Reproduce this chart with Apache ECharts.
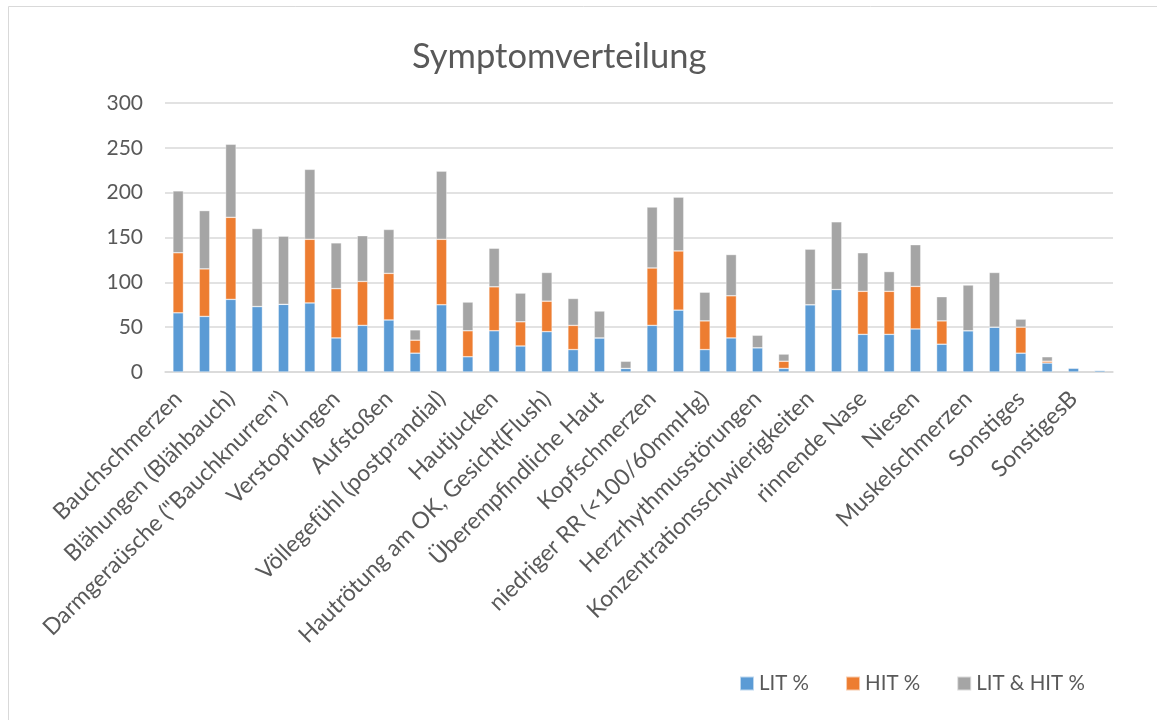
<!DOCTYPE html>
<html>
<head>
<meta charset="utf-8">
<script src="https://cdn.jsdelivr.net/npm/echarts@6/dist/echarts.min.js"></script>
<style>
  html, body { margin: 0; padding: 0; background: #ffffff; }
  #chart { width: 1157px; height: 720px; }
</style>
</head>
<body>
<div id="chart"></div>
<script>
// ---- data ----
const categories = [
  'Bauchschmerzen', '',
  'Blähungen (Blähbauch)', '',
  'Darmgeraüsche ("Bauchknurren")', '',
  'Verstopfungen', '',
  'Aufstoßen', '',
  'Völlegefühl (postprandial)', '',
  'Hautjucken', '',
  'Hautrötung am OK, Gesicht(Flush)', '',
  'Überempfindliche Haut', '',
  'Kopfschmerzen', '',
  'niedriger RR (<100/60mmHg)', '',
  'Herzrhythmusstörungen', '',
  'Konzentrationsschwierigkeiten', '',
  'rinnende Nase', '',
  'Niesen', '',
  'Muskelschmerzen', '',
  'Sonstiges', '',
  'SonstigesB', ''
];
const seriesNames = ['LIT %', 'HIT %', 'LIT & HIT %'];
const litValues  = [66, 62, 81, 73, 75.5, 77, 38, 52, 58, 21, 75, 17, 46, 29, 45, 25, 38, 4, 52, 69, 25, 38, 27, 4, 75, 92, 42, 42, 48, 31, 46, 50, 21, 10, 4.5, 2];
const hitValues  = [67, 53, 91.5, 0, 0, 71, 55, 49, 52, 14.5, 73, 29, 49, 27, 34, 27, 0, 0, 64, 66, 32, 47, 0, 8, 0, 0, 48, 48, 47.5, 26, 0, 0, 29, 2, 0, 0];
const bothValues = [69, 65, 81.5, 87, 76, 78, 51, 51, 49, 11.5, 76, 32, 43, 32, 32, 30, 30, 8, 68, 60, 32, 46, 14, 8, 62, 75.5, 43, 22, 46.5, 27, 51, 61, 9, 5, 0, 0];
const yTicks = { min: 0, max: 300, interval: 50 };
const colors = ['#5B9BD5', '#ED7D31', '#A5A5A5'];

const FONT = 'Lato';
const TXT = '#595959';

const chart = echarts.init(document.getElementById('chart'), null, { renderer: 'canvas' });

function barSeries(name, values, color) {
  return {
    name: name,
    type: 'bar',
    stack: 'total',
    barWidth: '40%',
    data: values,
    itemStyle: { color: color, borderColor: 'rgba(255,255,255,0.6)', borderWidth: 0.6 },
    emphasis: { disabled: true }
  };
}

chart.setOption({
  animation: false,
  backgroundColor: '#ffffff',
  color: colors,
  title: {
    text: 'Symptomverteilung',
    left: 407,
    top: 34,
    textStyle: { fontFamily: FONT, fontSize: 34.5, fontWeight: 'normal', color: TXT }
  },
  graphic: [{
    type: 'rect',
    shape: { x: 8.5, y: 6.5, width: 1300, height: 900 },
    style: { fill: 'none', stroke: '#d9d9d9', lineWidth: 1 },
    silent: true
  }],
  legend: {
    data: seriesNames,
    left: 734,
    top: 668,
    icon: 'rect',
    itemWidth: 14,
    itemHeight: 14,
    itemGap: 36,
    textStyle: { fontFamily: FONT, fontSize: 20.5, color: TXT }
  },
  grid: { left: 165, top: 103, width: 948, height: 269, containLabel: false },
  xAxis: {
    type: 'category',
    data: categories,
    axisLine: { lineStyle: { color: '#d9d9d9', width: 1.5 } },
    axisTick: { show: false },
    axisLabel: {
      interval: 0,
      rotate: 45,
      margin: 23,
      fontFamily: FONT,
      fontSize: 23,
      color: TXT
    }
  },
  yAxis: {
    type: 'value',
    min: yTicks.min,
    max: yTicks.max,
    interval: yTicks.interval,
    axisLine: { show: false },
    axisTick: { show: false },
    splitLine: { lineStyle: { color: '#d9d9d9', width: 1.5 } },
    axisLabel: { fontFamily: FONT, fontSize: 21, color: TXT, margin: 22 }
  },
  series: [
    barSeries(seriesNames[0], litValues, colors[0]),
    barSeries(seriesNames[1], hitValues, colors[1]),
    barSeries(seriesNames[2], bothValues, colors[2])
  ]
});
</script>
</body>
</html>
